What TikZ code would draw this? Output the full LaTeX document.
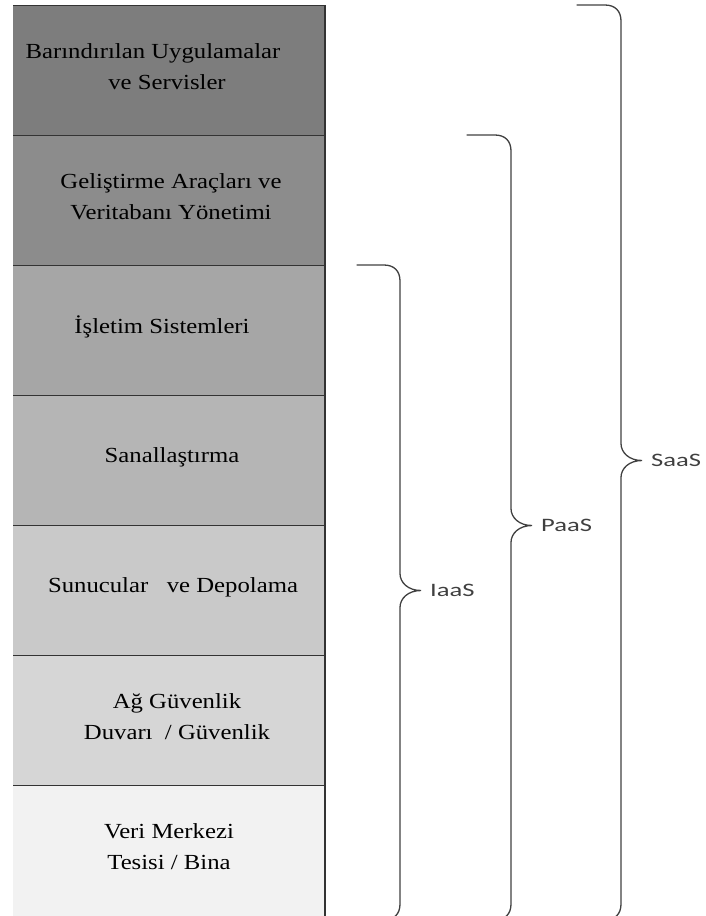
\documentclass[tikz,border=0pt]{standalone}
\usepackage{fontspec}
\setmainfont{Liberation Serif}
\newfontfamily\layerfont[FakeStretch=1.15]{Liberation Serif}
\newfontfamily\servicefont[FakeStretch=1.4]{Carlito}

\begin{document}
\begin{tikzpicture}[x=1pt,y=-1pt]
\colorlet{layA}{black!51}
\colorlet{layB}{black!45}
\colorlet{layC}{black!35}
\colorlet{layD}{black!29}
\colorlet{layE}{black!21}
\colorlet{layF}{black!16}
\colorlet{layG}{black!5}
\colorlet{edge}{black!80}
\tikzset{layer/.style={font=\layerfont\fontsize{21.5}{31}\selectfont,align=center,inner sep=0pt},
         brace/.style={draw=black!75,line width=1.3pt,line cap=round},
         service/.style={font=\servicefont\fontsize{19}{22}\selectfont,anchor=west,inner sep=0pt,text=black!75}}
\useasboundingbox (0,0) rectangle (706,916);

% the stack, from the hosted services down to the data centre
\foreach \n/\col/\dx/\txt in {1/layA/-16/{Barındırılan Uygulamalar\\\hspace*{28pt}ve Servisler},
                              2/layB/2/{Geliştirme Araçları ve\\Veritabanı Yönetimi},
                              3/layC/-7/{İşletim Sistemleri},
                              4/layD/3/{Sanallaştırma},
                              5/layE/4/{Sunucular\ \ \ ve Depolama},
                              6/layF/8/{Ağ Güvenlik\\Duvarı\ \ / Güvenlik},
                              7/layG/0/{Veri Merkezi\\Tesisi / Bina}}
{
    \pgfmathsetmacro{\yt}{5+130*(\n-1)}
    \fill[\col] (13,\yt) rectangle (325,\yt+131);
    \node[layer] (layer\n) at (169+\dx,\yt+62) {\txt};
    \draw[edge,line width=1pt] (13,\yt) -- (325,\yt);
}
\draw[edge,line width=1.2pt] (325,5) -- (325,916);

% the three service models, each brace reaching down past the bottom
\begin{scope}
\clip (0,0) rectangle (706,916);
\foreach \nm/\lab/\xl/\xv/\yt in {iaas/IaaS/357/400/265, paas/PaaS/467/511/135, saas/SaaS/577/621/5}
{
    \pgfmathsetmacro{\yb}{920}
    \pgfmathsetmacro{\ym}{(\yt+\yb)/2-2}
    \draw[brace] (\xl,\yt) -- (\xv-16,\yt)
        .. controls (\xv-6,\yt) and (\xv,\yt+6) .. (\xv,\yt+16)
        -- (\xv,\ym-17)
        .. controls (\xv,\ym-8) and (\xv+8,\ym) .. (\xv+21,\ym)
        .. controls (\xv+8,\ym) and (\xv,\ym+8) .. (\xv,\ym+17)
        -- (\xv,\yb-16)
        .. controls (\xv,\yb-6) and (\xv-6,\yb) .. (\xv-16,\yb) -- (\xl,\yb);
    \node[service] (\nm) at (\xv+30,\ym) {\lab};
}
\end{scope}
\end{tikzpicture}
\end{document}
